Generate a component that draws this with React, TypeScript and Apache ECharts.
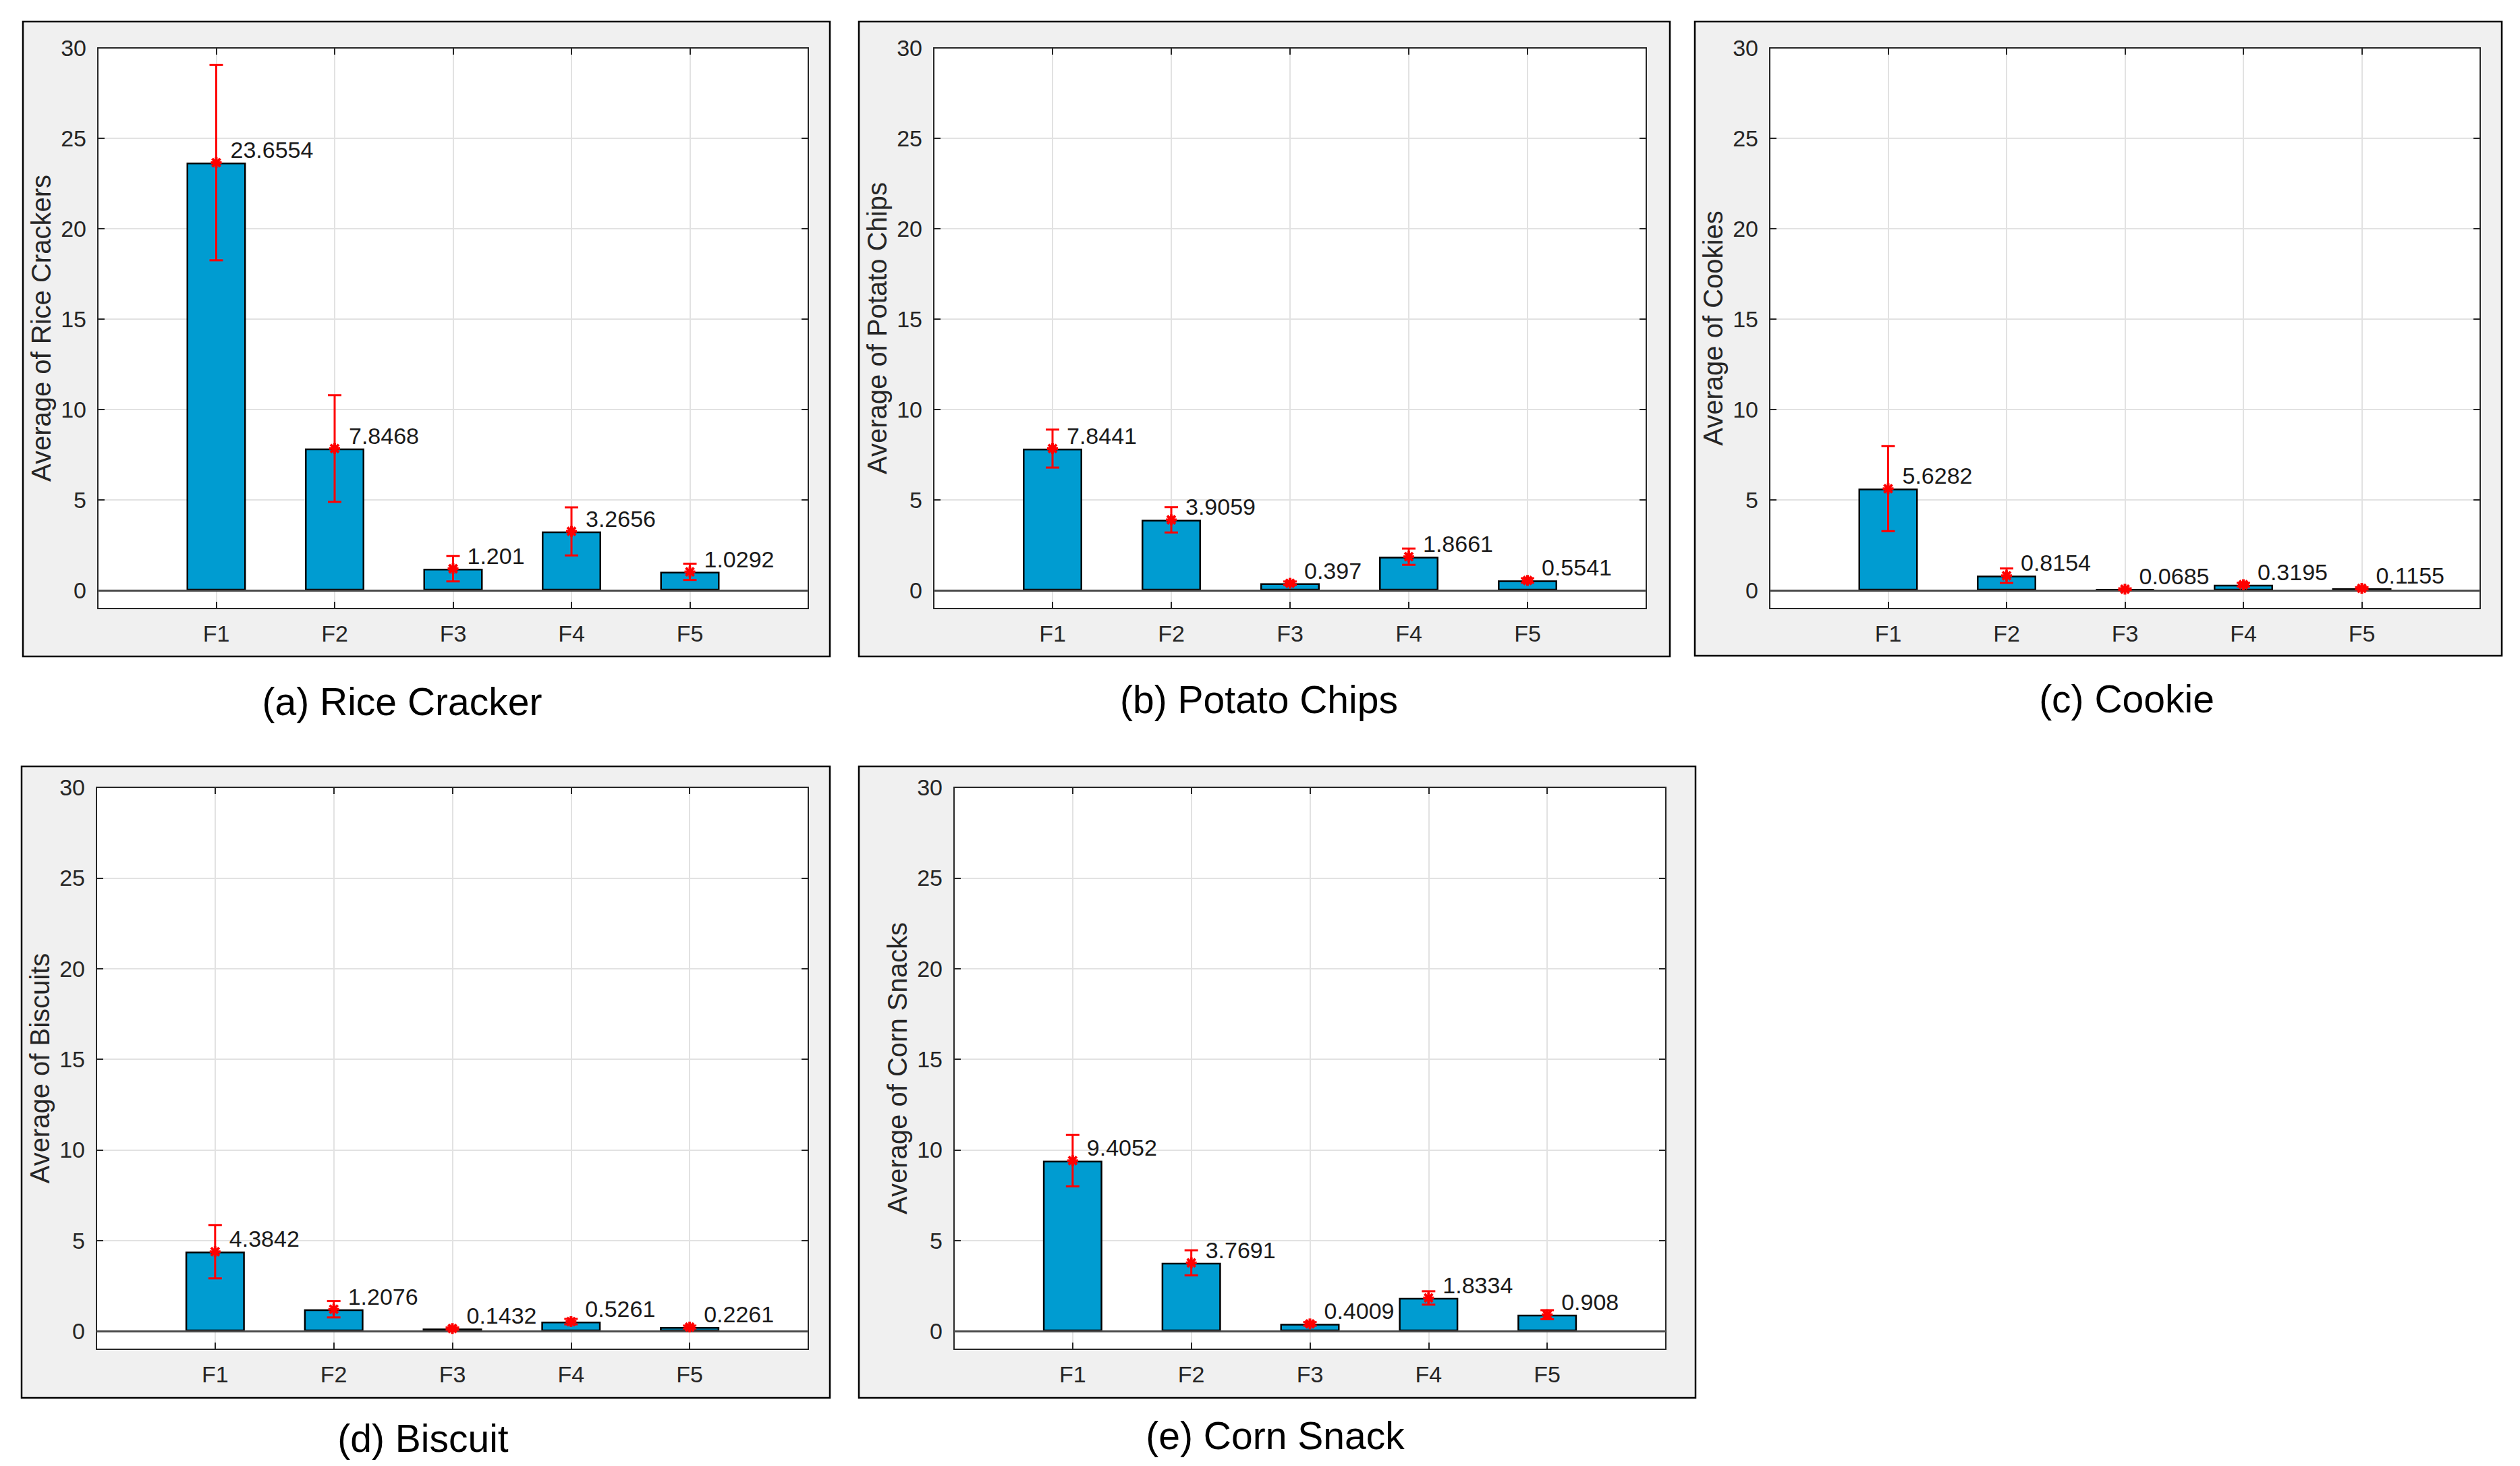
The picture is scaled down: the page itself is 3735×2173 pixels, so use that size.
import React, { useEffect, useRef } from 'react';
import * as echarts from 'echarts';

// ---- data ----
const categories = ['', 'F1', 'F2', 'F3', 'F4', 'F5', ''];
const yTicks = [0, 5, 10, 15, 20, 25, 30];
const panelTitles = ['(a) Rice Cracker', '(b) Potato Chips', '(c) Cookie', '(d) Biscuit', '(e) Corn Snack'];
const yNames = [
  'Average of Rice Crackers',
  'Average of Potato Chips',
  'Average of Cookies',
  'Average of Biscuits',
  'Average of Corn Snacks',
];
const riceCracker = [23.6554, 7.8468, 1.201, 3.2656, 1.0292];
const riceCrackerErr = [5.4, 2.95, 0.7, 1.33, 0.45];
const potatoChips = [7.8441, 3.9059, 0.397, 1.8661, 0.5541];
const potatoChipsErr = [1.05, 0.7, 0.1, 0.45, 0.12];
const cookie = [5.6282, 0.8154, 0.0685, 0.3195, 0.1155];
const cookieErr = [2.35, 0.4, 0.05, 0.1, 0.06];
const biscuit = [4.3842, 1.2076, 0.1432, 0.5261, 0.2261];
const biscuitErr = [1.47, 0.45, 0.06, 0.15, 0.08];
const cornSnack = [9.4052, 3.7691, 0.4009, 1.8334, 0.908];
const cornSnackErr = [1.42, 0.69, 0.1, 0.37, 0.25];

const seriesValues = [riceCracker, potatoChips, cookie, biscuit, cornSnack];
const seriesErrors = [riceCrackerErr, potatoChipsErr, cookieErr, biscuitErr, cornSnackErr];

// ---- layout / style ----
const W = 3735;
const H = 2173;
const FONT = '"Liberation Sans", Arial, Helvetica, sans-serif';
const AXIS_COLOR = '#262626';
const GRID_COLOR = '#e2e2e2';
const BAR_COLOR = '#009cd1';

const layout = [
  { box: [34, 32, 1196, 941], grid: [145, 71, 1053, 831], cap: [596, 1040] },
  { box: [1273, 32, 1202, 941], grid: [1384, 71, 1056, 831], cap: [1866, 1037] },
  { box: [2512, 32, 1196, 940], grid: [2623, 71, 1053, 831], cap: [3152, 1036] },
  { box: [32, 1136, 1198, 936], grid: [143, 1167, 1055, 833], cap: [627, 2132] },
  { box: [1273, 1136, 1240, 936], grid: [1414, 1167, 1055, 833], cap: [1890, 2128] },
];

function buildOption() {
  const grid: any[] = [];
  const xAxis: any[] = [];
  const yAxis: any[] = [];
  const series: any[] = [];
  const graphic: any[] = [];

  layout.forEach((L, i) => {
    const [gl, gt, gw, gh] = L.grid;
    grid.push({ left: gl, top: gt, width: gw, height: gh, show: true, backgroundColor: '#ffffff', borderWidth: 0 });

    const catCommon = {
      type: 'category',
      gridIndex: i,
      data: categories,
      boundaryGap: false,
      axisLine: { show: true, onZero: false, lineStyle: { color: AXIS_COLOR, width: 2 } },
      axisTick: { show: true, inside: true, length: 10, interval: 0, lineStyle: { color: AXIS_COLOR, width: 2 } },
    };
    xAxis.push({
      ...catCommon,
      position: 'bottom',
      axisLabel: { show: true, interval: 0, color: AXIS_COLOR, fontSize: 34, fontFamily: FONT, margin: 20 },
      splitLine: { show: true, interval: 0, lineStyle: { color: GRID_COLOR, width: 2 } },
    });
    xAxis.push({
      ...catCommon,
      position: 'top',
      axisLabel: { show: false },
      splitLine: { show: false },
    });

    const valCommon = {
      type: 'value',
      gridIndex: i,
      min: -1,
      max: 30,
      axisLine: { show: true, onZero: false, lineStyle: { color: AXIS_COLOR, width: 2 } },
      axisTick: { show: true, inside: true, length: 10, customValues: yTicks, lineStyle: { color: AXIS_COLOR, width: 2 } },
    };
    yAxis.push({
      ...valCommon,
      position: 'left',
      name: yNames[i],
      nameLocation: 'middle',
      nameRotate: 90,
      nameGap: 64,
      nameTextStyle: { fontSize: 40, color: AXIS_COLOR, fontFamily: FONT },
      axisLabel: { show: true, customValues: yTicks, color: AXIS_COLOR, fontSize: 34, fontFamily: FONT, margin: 17 },
      splitLine: { show: true, lineStyle: { color: GRID_COLOR, width: 2 } },
    });
    yAxis.push({
      ...valCommon,
      position: 'right',
      axisLabel: { show: false },
      splitLine: { show: false },
    });

    const vals = seriesValues[i];
    const errs = seriesErrors[i];

    series.push({
      type: 'bar',
      xAxisIndex: 2 * i,
      yAxisIndex: 2 * i,
      barWidth: 88,
      z: 2,
      data: ['-', ...vals, '-'],
      itemStyle: { color: BAR_COLOR, borderColor: '#000000', borderWidth: 2.5 },
      markLine: {
        silent: true,
        symbol: 'none',
        label: { show: false },
        lineStyle: { color: '#4a4a4a', width: 3, type: 'solid' },
        data: [{ yAxis: 0 }],
      },
    });

    series.push({
      type: 'custom',
      xAxisIndex: 2 * i,
      yAxisIndex: 2 * i,
      z: 5,
      data: vals.map((v, k) => [k + 1, v, errs[k]]),
      renderItem: (params: any, api: any) => {
        const x = api.value(0);
        const v = api.value(1);
        const e = api.value(2);
        const c = api.coord([x, v]);
        const hi = api.coord([x, v + e]);
        const lo = api.coord([x, v - e]);
        const ls = { stroke: '#ff0000', lineWidth: 3 };
        const cw = 10;
        const m = 8;
        const d = 6;
        return {
          type: 'group',
          children: [
            { type: 'line', shape: { x1: c[0], y1: lo[1], x2: c[0], y2: hi[1] }, style: ls },
            { type: 'line', shape: { x1: c[0] - cw, y1: hi[1], x2: c[0] + cw, y2: hi[1] }, style: ls },
            { type: 'line', shape: { x1: c[0] - cw, y1: lo[1], x2: c[0] + cw, y2: lo[1] }, style: ls },
            { type: 'line', shape: { x1: c[0] - m, y1: c[1], x2: c[0] + m, y2: c[1] }, style: { stroke: '#ff0000', lineWidth: 4 } },
            { type: 'line', shape: { x1: c[0], y1: c[1] - m, x2: c[0], y2: c[1] + m }, style: { stroke: '#ff0000', lineWidth: 4 } },
            { type: 'line', shape: { x1: c[0] - d, y1: c[1] - d, x2: c[0] + d, y2: c[1] + d }, style: { stroke: '#ff0000', lineWidth: 4 } },
            { type: 'line', shape: { x1: c[0] - d, y1: c[1] + d, x2: c[0] + d, y2: c[1] - d }, style: { stroke: '#ff0000', lineWidth: 4 } },
            {
              type: 'text',
              x: c[0] + 21,
              y: c[1] - 19,
              style: {
                text: String(vals[params.dataIndex]),
                fill: '#1a1a1a',
                fontSize: 34,
                fontFamily: FONT,
                align: 'left',
                verticalAlign: 'middle',
              },
            },
          ],
        };
      },
    });

    const [bx, by, bw, bh] = L.box;
    graphic.push({
      type: 'rect',
      z: -10,
      silent: true,
      shape: { x: bx, y: by, width: bw, height: bh },
      style: { fill: '#f0f0f0', stroke: '#000000', lineWidth: 2.5 },
    });
    graphic.push({
      type: 'text',
      z: 10,
      silent: true,
      x: L.cap[0],
      y: L.cap[1],
      style: {
        text: panelTitles[i],
        fill: '#000000',
        fontSize: 57,
        fontFamily: FONT,
        align: 'center',
        verticalAlign: 'middle',
      },
    });
  });

  return {
    animation: false,
    backgroundColor: '#ffffff',
    textStyle: { fontFamily: FONT },
    grid,
    xAxis,
    yAxis,
    series,
    graphic,
  };
}

export default function App() {
  const ref = useRef<HTMLDivElement>(null);
  useEffect(() => {
    document.body.style.margin = '0';
    if (!ref.current) return;
    const chart = echarts.init(ref.current, undefined, { renderer: 'svg', width: W, height: H });
    chart.setOption(buildOption() as any);
    return () => {
      chart.dispose();
    };
  }, []);
  return <div ref={ref} style={{ width: W, height: H }} />;
}
